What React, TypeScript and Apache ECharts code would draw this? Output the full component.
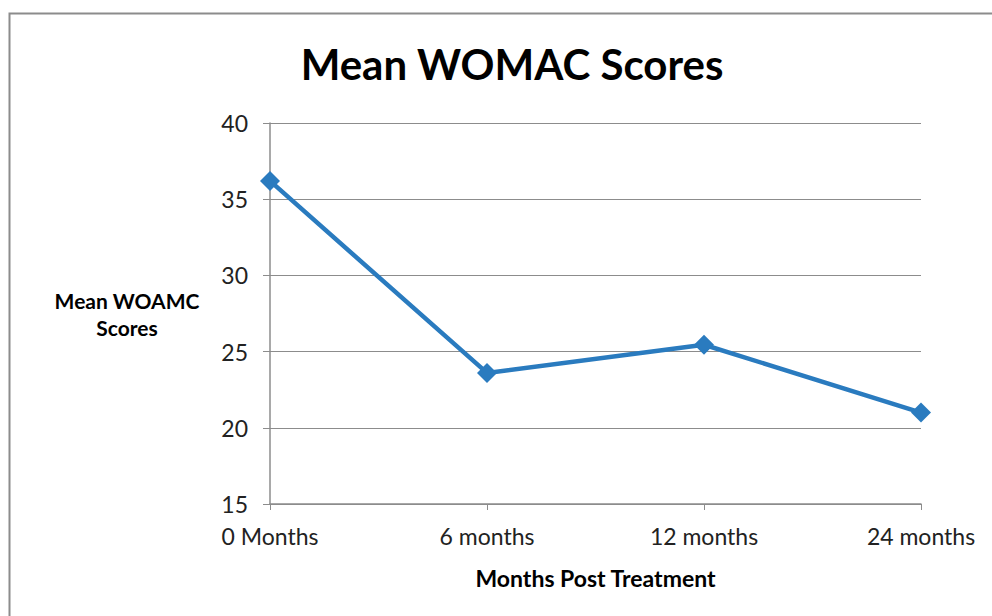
import React, { useEffect, useRef } from "react";
import * as echarts from "echarts";

const categories = ["0 Months", "6 months", "12 months", "24 months"];
const womacScores = [36.2, 23.6, 25.45, 21.0];
const yTicks = { min: 15, max: 40, interval: 5 };

export default function App() {
  const ref = useRef<HTMLDivElement>(null);
  useEffect(() => {
    if (!ref.current) return;
    const chart = echarts.init(ref.current, null, { renderer: "svg" });
    const font = "Lato, 'Open Sans', sans-serif";
    chart.setOption({
      animation: false,
      backgroundColor: "#ffffff",
      title: {
        text: "Mean WOMAC Scores",
        left: 507,
        top: 38,
        textAlign: "center",
        textStyle: { fontFamily: font, fontSize: 42, fontWeight: "bold", color: "#000" },
      },
      graphic: [
        {
          type: "rect",
          shape: { x: 9.5, y: 13.5, width: 1000, height: 700 },
          style: { fill: "none", stroke: "#8c8c8c", lineWidth: 2 },
          silent: true,
        },
      ],
      grid: { left: 270, right: 71, top: 123, bottom: 112 },
      xAxis: {
        type: "category",
        data: categories,
        boundaryGap: false,
        axisLine: { lineStyle: { color: "#8c8c8c", width: 1.5 } },
        axisTick: { show: true, length: 6, lineStyle: { color: "#8c8c8c" } },
        axisLabel: { fontFamily: font, fontSize: 23, color: "#222", margin: 20 },
        name: "Months Post Treatment",
        nameLocation: "middle",
        nameGap: 62,
        nameTextStyle: { fontFamily: font, fontSize: 23, fontWeight: "bold", color: "#000" },
      },
      yAxis: {
        type: "value",
        min: yTicks.min,
        max: yTicks.max,
        interval: yTicks.interval,
        axisLine: { show: true, lineStyle: { color: "#8c8c8c", width: 1.5 } },
        axisTick: { show: true, length: 7, lineStyle: { color: "#8c8c8c" } },
        splitLine: { lineStyle: { color: "#8c8c8c", width: 1.2 } },
        axisLabel: { fontFamily: font, fontSize: 23, color: "#222", margin: 22 },
        name: "Mean WOAMC\nScores",
        nameLocation: "middle",
        nameRotate: 0,
        nameGap: 143,
        nameTextStyle: {
          fontFamily: font,
          fontSize: 21,
          fontWeight: "bold",
          color: "#000",
          align: "center",
          lineHeight: 27,
        },
      },
      series: [
        {
          type: "line",
          data: womacScores,
          symbol: "diamond",
          symbolSize: 20,
          lineStyle: { color: "#2a7bbf", width: 4.5 },
          itemStyle: { color: "#2a7bbf" },
        },
      ],
    });
    return () => chart.dispose();
  }, []);
  return (
    <div
      ref={ref}
      style={{ position: "fixed", left: 0, top: 0, width: 992, height: 616 }}
    />
  );
}
